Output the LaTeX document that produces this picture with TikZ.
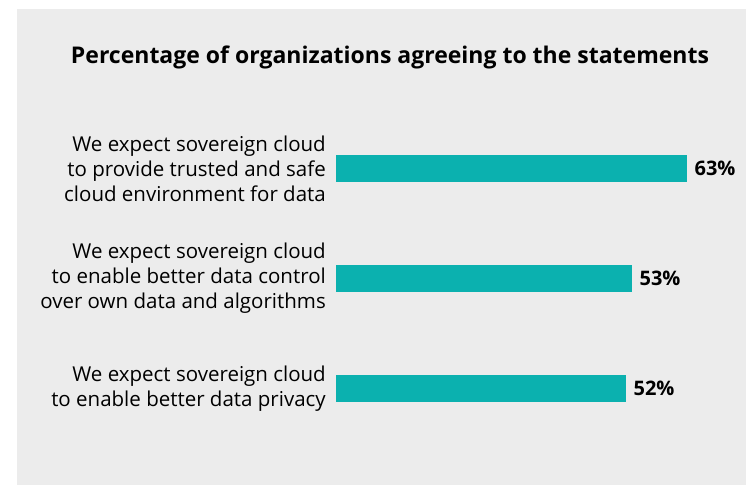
\documentclass[tikz,border=0pt]{standalone}
\usepackage{fontspec}
\setmainfont{Open Sans}
\usetikzlibrary{positioning}
\definecolor{panelgray}{HTML}{ECECEC}
\definecolor{barteal}{HTML}{0BB1AF}
\begin{document}
\begin{tikzpicture}[x=1pt,y=-1pt]
        \useasboundingbox (0,0) rectangle (746,485);
        \fill[panelgray] (17,9) rectangle (746,485);
        \node[font=\bfseries\fontsize{23}{27}\selectfont] (title) at (390,57) {Percentage of organizations agreeing to the statements};
        \begin{scope}
          \begin{scope}[every node/.style={fill=barteal, inner sep=0, minimum height=27pt, anchor=west}]
            \node[minimum width=351pt] (b1) at (336,168.5) {};
            \node[minimum width=296pt] (b2) at (336,278.5) {};
            \node[minimum width=290pt] (b3) at (336,388.5) {};
          \end{scope}
          \begin{scope}[every node/.style={align=right, anchor=east, inner sep=0, font=\fontsize{20.5}{25}\selectfont}]
            \node (t1) at (326,168.5) {We expect sovereign cloud\\to provide trusted and safe\\cloud environment for data};
            \node (t2) at (326,278.5) {We expect sovereign cloud\\to enable better data control\\over own data and algorithms};
            \node (t3) at (326,388.5) {We expect sovereign cloud\\to enable better data privacy};
          \end{scope}
          \begin{scope}[every node/.style={inner sep=0, font=\bfseries\fontsize{20}{24}\selectfont}]
            \node[right=7pt of b1] (p1) {63\%};
            \node[right=7pt of b2] (p2) {53\%};
            \node[right=7pt of b3] (p3) {52\%};
          \end{scope}
        \end{scope}
      \end{tikzpicture}
\end{document}
